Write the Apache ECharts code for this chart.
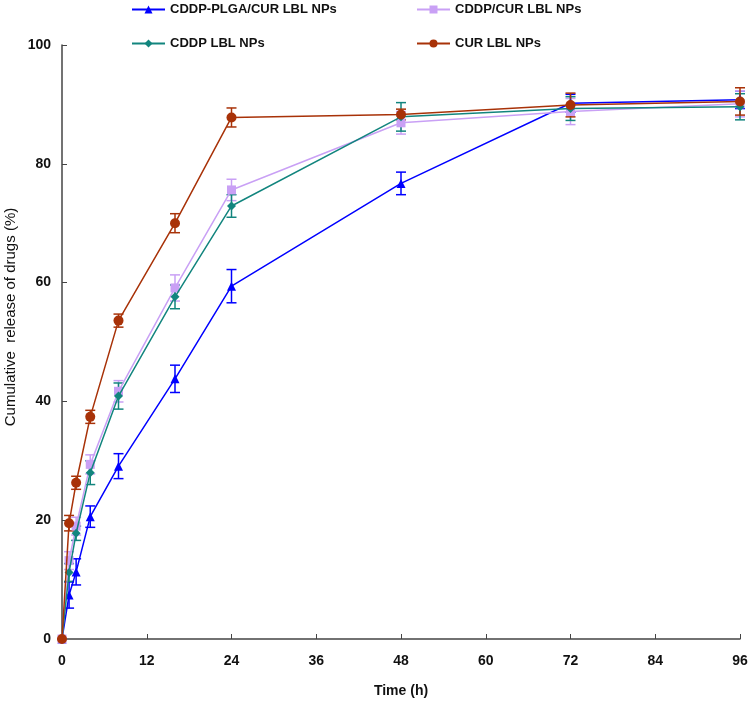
<!DOCTYPE html>
<html><head><meta charset="utf-8">
<script src="https://cdn.jsdelivr.net/npm/echarts@6/dist/echarts.min.js"></script>
<style>html,body{margin:0;padding:0;background:#fff}#c{width:750px;height:702px}</style>
</head><body><div id="c"></div>
<script>
var times = [0, 1, 2, 4, 8, 16, 24, 48, 72, 96];
var names = ['CDDP-PLGA/CUR LBL NPs', 'CDDP/CUR LBL NPs', 'CDDP LBL NPs', 'CUR LBL NPs'];
var blueVals   = [0, 7.4, 11.3, 20.6, 29.1, 43.8, 59.4, 76.7, 90.2, 90.8];
var blueErr    = [0, 2.2, 2.2, 1.8, 2.1, 2.3, 2.8, 1.9, 1.5, 1.5];
var purpleVals = [0, 13.2, 19.0, 29.4, 41.7, 59.1, 75.6, 86.9, 88.8, 90.1];
var purpleErr  = [0, 1.5, 1.5, 1.6, 1.8, 2.2, 1.8, 1.9, 2.2, 2.2];
var tealVals   = [0, 11.2, 17.8, 28.0, 40.9, 57.6, 72.9, 87.9, 89.3, 89.6];
var tealErr    = [0, 1.5, 1.2, 2.0, 2.2, 2.0, 1.9, 2.4, 2.0, 2.2];
var redVals    = [0, 19.5, 26.3, 37.4, 53.6, 70.0, 87.8, 88.3, 89.9, 90.5];
var redErr     = [0, 1.3, 1.1, 1.1, 1.1, 1.6, 1.6, 0.9, 2.0, 2.3];
var xTicks = [0, 12, 24, 36, 48, 60, 72, 84, 96];
var yTicks = [0, 20, 40, 60, 80, 100];

var colors = ['#0000FF', '#C9A0F5', '#12857E', '#A83208'];
var symbols = ['triangle', 'rect', 'diamond', 'circle'];
var symSizes = [9, 9, 9, 10];
var vals = [blueVals, purpleVals, tealVals, redVals];
var errs = [blueErr, purpleErr, tealErr, redErr];

var series = [];
for (var s = 0; s < 4; s++) {
  (function(s){
    var errData = times.map(function(t, i){ return [t, vals[s][i] - errs[s][i], vals[s][i] + errs[s][i]]; });
    series.push({
      type: 'custom',
      name: names[s] + ' err',
      data: errData,
      z: 2 + s,
      silent: true,
      encode: {x: 0, y: [1, 2]},
      renderItem: function(params, api){
        var x = api.value(0);
        var lo = api.coord([x, api.value(1)]);
        var hi = api.coord([x, api.value(2)]);
        var w = 5;
        var st = {stroke: colors[s], lineWidth: 1.5};
        return {type: 'group', children: [
          {type: 'line', shape: {x1: lo[0], y1: lo[1], x2: hi[0], y2: hi[1]}, style: st},
          {type: 'line', shape: {x1: lo[0]-w, y1: lo[1], x2: lo[0]+w, y2: lo[1]}, style: st},
          {type: 'line', shape: {x1: hi[0]-w, y1: hi[1], x2: hi[0]+w, y2: hi[1]}, style: st}
        ]};
      }
    });
    series.push({
      type: 'line',
      name: names[s],
      data: times.map(function(t, i){ return [t, vals[s][i]]; }),
      symbol: symbols[s],
      symbolSize: symSizes[s],
      showAllSymbol: true,
      z: 10 + s,
      lineStyle: {color: colors[s], width: 1.5},
      itemStyle: {color: colors[s]},
      animation: false
    });
  })(s);
}

var legendPos = [[126, -2], [411, -2], [126, 32], [411, 32]];
var legends = names.map(function(n, i){
  return {
    data: [n], left: legendPos[i][0], top: legendPos[i][1],
    itemWidth: 33, itemHeight: 10, itemGap: 0,
    selectedMode: false,
    textStyle: {fontFamily: 'Liberation Sans, Arial', fontWeight: 'bold', fontSize: 13, color: '#111'}
  };
});

var axisLine = {lineStyle: {color: '#444', width: 1.5}};
var chart = echarts.init(document.getElementById('c'));
chart.setOption({
  animation: false,
  backgroundColor: '#fff',
  legend: legends,
  grid: {left: 62, right: 10, top: 45, bottom: 63, containLabel: false, outerBoundsMode: 'none'},
  xAxis: {
    type: 'value', min: 0, max: 96, interval: 12,
    name: 'Time (h)', nameLocation: 'middle', nameGap: 45,
    nameTextStyle: {fontFamily: 'Liberation Sans, Arial', fontWeight: 'bold', fontSize: 14, color: '#111'},
    axisLine: axisLine,
    axisTick: {inside: true, length: 5, lineStyle: {color: '#444'}},
    axisLabel: {fontFamily: 'Liberation Sans, Arial', fontWeight: 'bold', fontSize: 14, color: '#111', margin: 15,
      formatter: function(v){ return xTicks.indexOf(v) >= 0 ? String(v) : ''; }},
    splitLine: {show: false}
  },
  yAxis: {
    type: 'value', min: 0, max: 100, interval: 20,
    name: 'Cumulative  release of drugs (%)', nameLocation: 'middle', nameGap: 44,
    nameMoveOverlap: false,
    nameTextStyle: {fontFamily: 'Liberation Sans, Arial', fontWeight: 'normal', fontSize: 15, color: '#111', padding: [0, 0, 0, 50]},
    axisLine: axisLine,
    axisTick: {inside: true, length: 5, lineStyle: {color: '#444'}},
    axisLabel: {fontFamily: 'Liberation Sans, Arial', fontWeight: 'bold', fontSize: 14, color: '#111', margin: 11,
      formatter: function(v){ return yTicks.indexOf(v) >= 0 ? String(v) : ''; }},
    splitLine: {show: false}
  },
  series: series
});
</script></body></html>
